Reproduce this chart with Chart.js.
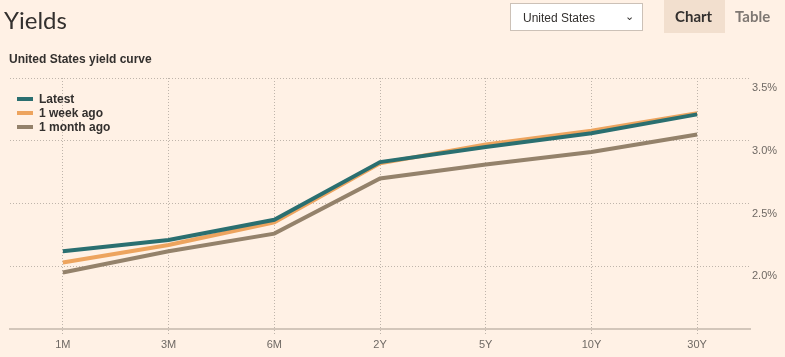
<!DOCTYPE html>
<html>
<head>
<meta charset="utf-8">
<script src="https://cdn.jsdelivr.net/npm/chart.js@4/dist/chart.umd.min.js"></script>
<style>
  html, body { margin: 0; padding: 0; background: #fff1e5; width: 785px; height: 357px; overflow: hidden; }
  #wrap { position: relative; width: 785px; height: 357px; }
  #c { position: absolute; left: 0; top: 0; }
  .title { position: absolute; left: 4px; top: 5px; font: 400 24px Lato, "Open Sans", sans-serif; color: #33302e; }
  .sub { position: absolute; left: 9px; top: 52px; font: bold 12px "Liberation Sans", Arial, sans-serif; color: #33302e; }
  .sel { position: absolute; left: 510px; top: 3px; width: 131px; height: 26px; background: #fff; border: 1px solid #ccc1b7; box-sizing: content-box; font: 12px "Liberation Sans", Arial, sans-serif; color: #33302e; }
  .sel span { position: absolute; left: 12px; top: 7px; }
  .sel i { position: absolute; right: 8px; top: 6px; font-style: normal; font-size: 11px; }
  .btn-chart { position: absolute; left: 664px; top: 0; width: 61px; height: 33px; background: #f2dfce; }
  .btn-chart span { position: absolute; left: 11px; top: 7px; font: bold 15px Lato, sans-serif; color: #33302e; }
  .btn-table { position: absolute; left: 735px; top: 7px; font: bold 15px Lato, sans-serif; color: #7f7873; }
  .legend { position: absolute; left: 17px; top: 92px; font: bold 12px "Liberation Sans", Arial, sans-serif; color: #33302e; }
  .legend div { height: 14px; line-height: 14px; position: relative; padding-left: 22px; }
  .legend b { position: absolute; left: 0; top: 5px; width: 16px; height: 4px; }
</style>
</head>
<body>
<div id="wrap">
  <canvas id="c" width="785" height="357"></canvas>
  <div class="title">Yields</div>
  <div class="sub">United States yield curve</div>
  <div class="sel"><span>United States</span><i>&#8964;</i></div>
  <div class="btn-chart"><span>Chart</span></div>
  <div class="btn-table">Table</div>
  <div class="legend" id="legend"></div>
</div>
<script>
const categories = ["1M", "3M", "6M", "2Y", "5Y", "10Y", "30Y"];
const seriesNames = ["Latest", "1 week ago", "1 month ago"];
const seriesColors = ["#2a6f70", "#eda45e", "#94826b"];
const latest = [2.12, 2.21, 2.37, 2.83, 2.95, 3.06, 3.21];
const weekAgo = [2.03, 2.17, 2.35, 2.82, 2.97, 3.08, 3.22];
const monthAgo = [1.95, 2.12, 2.26, 2.70, 2.81, 2.91, 3.05];
const yTicks = [1.5, 2.0, 2.5, 3.0, 3.5];

const seriesValues = [latest, weekAgo, monthAgo];

const leg = document.getElementById('legend');
seriesNames.forEach((n, i) => {
  const d = document.createElement('div');
  d.innerHTML = '<b style="background:' + seriesColors[i] + '"></b>' + n;
  leg.appendChild(d);
});

const datasets = seriesNames.map((n, i) => ({
  label: n,
  data: seriesValues[i],
  borderColor: seriesColors[i],
  backgroundColor: seriesColors[i],
  borderWidth: 4,
  pointRadius: 0,
  pointHoverRadius: 0,
  tension: 0,
  fill: false
}));

new Chart(document.getElementById('c'), {
  type: 'line',
  data: { labels: categories, datasets },
  options: {
    responsive: false,
    animation: false,
    events: [],
    layout: { padding: { left: 10, top: 78, right: 0, bottom: 0 } },
    plugins: { legend: { display: false }, tooltip: { enabled: false } },
    scales: {
      x: {
        type: 'category',
        offset: true,
        grid: {
          offset: false,
          color: '#bfb5ab',
          lineWidth: 1,
          drawTicks: true,
          tickLength: 7,
          tickColor: '#bfb5ab',
          tickBorderDash: [1, 2]
        },
        border: { display: true, color: '#d3c6ba', width: 2, dash: [1, 2] },
        ticks: {
          color: '#6f6964',
          padding: 2,
          font: { family: '"Liberation Sans", Arial, sans-serif', size: 11 },
          maxRotation: 0
        },
        afterFit: (s) => { s.height = 28; }
      },
      y: {
        position: 'right',
        min: 1.5,
        max: 3.5,
        afterBuildTicks: (s) => { s.ticks = yTicks.map(v => ({ value: v })); },
        grid: {
          color: (ctx) => ctx.tick && ctx.tick.value === 1.5 ? 'rgba(0,0,0,0)' : '#bfb5ab',
          lineWidth: 1,
          drawTicks: false
        },
        border: { display: false, dash: [1, 2] },
        ticks: {
          color: '#6f6964',
          padding: 2,
          labelOffset: 10,
          font: { family: '"Liberation Sans", Arial, sans-serif', size: 11 },
          callback: (v) => v === 1.5 ? '' : v.toFixed(1) + '%'
        },
        afterFit: (s) => { s.width = 35; }
      }
    }
  }
});
</script>
</body>
</html>
